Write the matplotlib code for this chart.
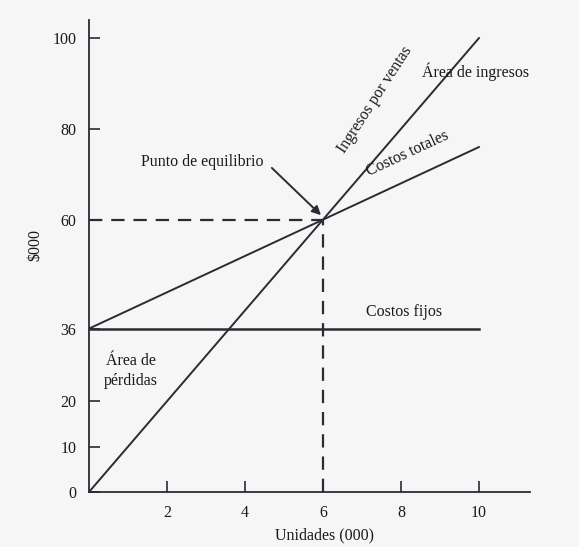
import numpy as np
import matplotlib
matplotlib.use("Agg")
import matplotlib.pyplot as plt

plt.rcParams['font.family'] = ['Liberation Serif', 'DejaVu Serif']

# data (units in thousands, $ in thousands)
units = [0, 10]
sales = [0, 100]          # Ingresos por ventas
fixed_cost = [36, 36]     # Costos fijos
total_cost = [36, 76]     # Costos totales
be_x, be_y = 6, 60        # Punto de equilibrio
yticks = [0, 10, 20, 36, 60, 80, 100]
xticks = [2, 4, 6, 8, 10]

ink = '#2b2b36'
txt = '#1a1a1a'

fig = plt.figure(figsize=(5.79, 5.47), dpi=100)
fig.patch.set_facecolor('#f6f6f6')
ax = fig.add_axes([0.1537, 0.1005, 0.761, 0.863])
ax.set_facecolor('#f6f6f6')

ax.plot(units, sales, color=ink, lw=1.4)
ax.plot(units, fixed_cost, color=ink, lw=1.8)
ax.plot(units, total_cost, color=ink, lw=1.4)

# dashed guide lines to break-even
ax.plot([0, be_x], [be_y, be_y], color=ink, lw=1.6, dashes=(6, 4))
ax.plot([be_x, be_x], [0, be_y], color=ink, lw=1.6, dashes=(6, 4))

ax.set_xlim(0, 11.3)
ax.set_ylim(0, 104)
for s in ['top', 'right']:
    ax.spines[s].set_visible(False)
for s in ['left', 'bottom']:
    ax.spines[s].set_color(ink)
    ax.spines[s].set_linewidth(1.3)

ax.set_yticks(yticks)
ax.set_yticklabels([str(v) for v in yticks])
ax.set_xticks(xticks)
ax.set_xticklabels([str(v) for v in xticks])
ax.tick_params(axis='both', direction='in', length=8, width=1.2, color=ink,
               labelsize=11.5, labelcolor=txt, pad=9)

fs = 11.5
ax.text(2.9, 72.7, 'Punto de equilibrio', ha='center', va='center',
        fontsize=fs, color=txt)
ax.annotate('', xy=(5.95, 61.0), xytext=(4.69, 71.4),
            arrowprops=dict(arrowstyle='-|>', color=ink, lw=1.4,
                            shrinkA=0, shrinkB=0, mutation_scale=13))
ax.text(7.33, 86.5, 'Ingresos por ventas', rotation=57, ha='center', va='center',
        fontsize=fs, color=txt)
ax.text(9.92, 92.5, 'Área de ingresos', ha='center', va='center', fontsize=fs,
        color=txt)
ax.text(8.18, 74.5, 'Costos totales', rotation=25, ha='center', va='center',
        fontsize=fs, color=txt)
ax.text(8.08, 39.6, 'Costos fijos', ha='center', va='center', fontsize=fs,
        color=txt)
ax.text(1.08, 26.7, 'Área de\npérdidas', ha='center', va='center', fontsize=fs,
        color=txt, linespacing=1.3)
ax.text(-1.38, 54.4, '$000', rotation=90, ha='center', va='center', fontsize=fs,
        color=txt, clip_on=False)
ax.text(6.05, -9.5, 'Unidades (000)', ha='center', va='center', fontsize=fs,
        color=txt, clip_on=False)

fig.savefig('out.png', dpi=100, facecolor=fig.get_facecolor())
